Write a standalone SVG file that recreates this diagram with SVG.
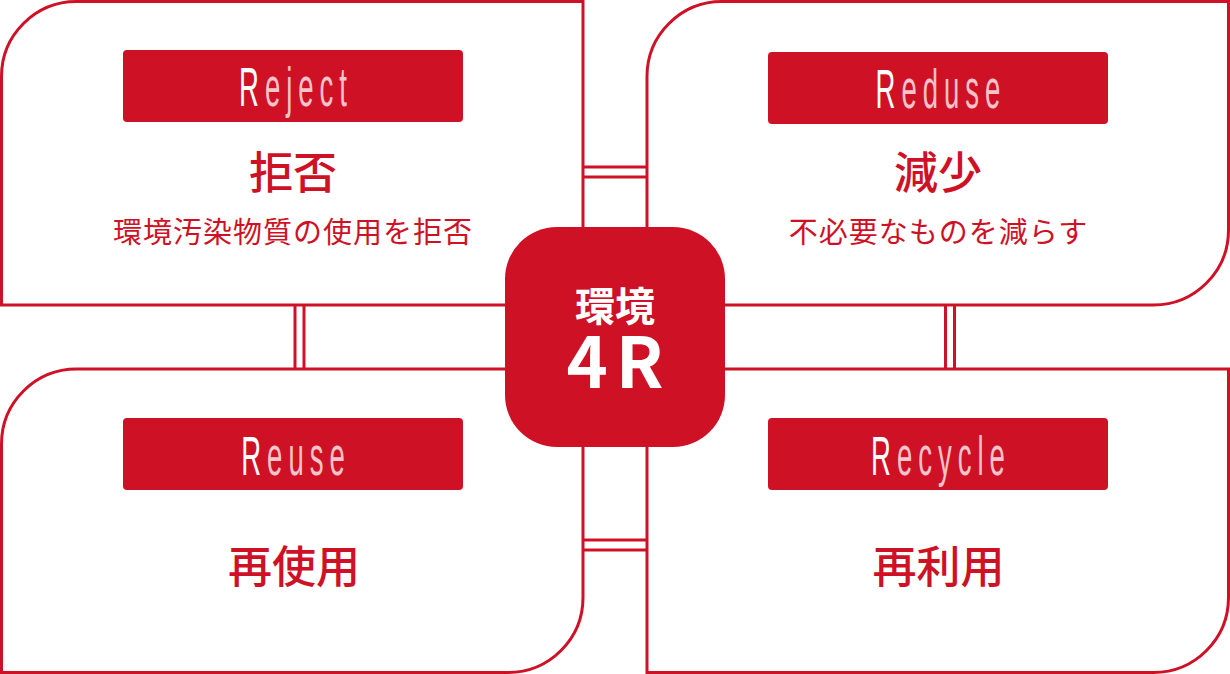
<svg xmlns="http://www.w3.org/2000/svg" width="1230" height="674" viewBox="0 0 1230 674">
<style>
.box{fill:#fff;stroke:#cf1126;stroke-width:3}
.conn{stroke:#cf1126;stroke-width:3;fill:none}
.tag{fill:#cf1126}
.en{font-family:"Liberation Sans",Arial,sans-serif;font-size:55px;letter-spacing:12px;text-anchor:middle}
.cap{fill:#ffffff}
.rest{fill:#f8c3ca}
.jp{font-family:"Noto Sans CJK JP","Noto Sans",sans-serif;fill:#cf1126;text-anchor:middle}
.big{font-size:44px;font-weight:500}
.sub{font-size:29px;font-weight:400}
.center{font-family:"Noto Sans CJK JP","Noto Sans",sans-serif;fill:#fff;font-weight:700;text-anchor:middle}
</style>
<rect width="1230" height="674" fill="#fff"/>
<g id="connectors">
<line class="conn" x1="583" y1="167" x2="647" y2="167"/>
<line class="conn" x1="583" y1="177" x2="647" y2="177"/>
<line class="conn" x1="583" y1="540" x2="647" y2="540"/>
<line class="conn" x1="583" y1="550" x2="647" y2="550"/>
<line class="conn" x1="295" y1="305" x2="295" y2="369"/>
<line class="conn" x1="304" y1="305" x2="304" y2="369"/>
<line class="conn" x1="945.5" y1="305" x2="945.5" y2="369"/>
<line class="conn" x1="954.5" y1="305" x2="954.5" y2="369"/>
</g>
<g id="reject">
<path class="box" d="M1.5,76.5 A75,75 0 0 1 76.5,1.5 H583 V305 H1.5 Z"/>
<rect class="tag" x="123" y="50" width="340" height="72" rx="4"/>
<text class="en" transform="translate(296,106) scale(0.5,1)"><tspan class="cap">R</tspan><tspan class="rest">eject</tspan></text>
<text class="jp big" x="293" y="189">拒否</text>
<text class="jp sub" x="293" y="243" letter-spacing="1">環境汚染物質の使用を拒否</text>
</g>
<g id="reduse">
<path class="box" d="M647,76.5 A75,75 0 0 1 722,1.5 H1228.5 V230 A75,75 0 0 1 1153.5,305 H647 Z"/>
<rect class="tag" x="768" y="52" width="340" height="72" rx="4"/>
<text class="en" transform="translate(941,108) scale(0.5,1)"><tspan class="cap">R</tspan><tspan class="rest">eduse</tspan></text>
<text class="jp big" x="938" y="189">減少</text>
<text class="jp sub" x="938.5" y="243" letter-spacing="1">不必要なものを減らす</text>
</g>
<g id="reuse">
<path class="box" d="M1.5,444 A75,75 0 0 1 76.5,369 H583 V597.5 A75,75 0 0 1 508,672.5 H1.5 Z"/>
<rect class="tag" x="123" y="418" width="340" height="72" rx="4"/>
<text class="en" transform="translate(296,475) scale(0.5,1)"><tspan class="cap">R</tspan><tspan class="rest">euse</tspan></text>
<text class="jp big" x="294" y="583">再使用</text>
</g>
<g id="recycle">
<path class="box" d="M647,369 H1228.5 V597.5 A75,75 0 0 1 1153.5,672.5 H647 Z"/>
<rect class="tag" x="768" y="418" width="340" height="72" rx="4"/>
<text class="en" transform="translate(941,475) scale(0.5,1)"><tspan class="cap">R</tspan><tspan class="rest">ecycle</tspan></text>
<text class="jp big" x="938.5" y="583">再利用</text>
</g>
<g id="center">
<rect x="505" y="227" width="220" height="220" rx="52" fill="#cf1126"/>
<text class="center"><tspan x="615" y="321" font-size="40">環境</tspan><tspan x="619" y="388" font-size="70" letter-spacing="8">4R</tspan></text>
</g>
</svg>
